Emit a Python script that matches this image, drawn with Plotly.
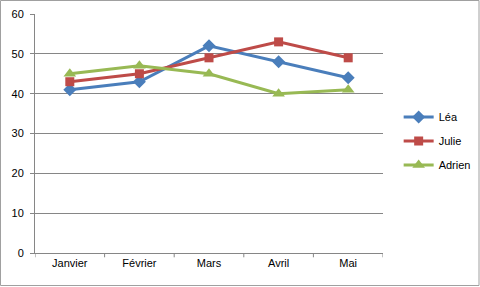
import plotly.graph_objects as go

months = ["Janvier", "Février", "Mars", "Avril", "Mai"]
lea = [41, 43, 52, 48, 44]
julie = [43, 45, 49, 53, 49]
adrien = [45, 47, 45, 40, 41]

series = [
    ("Léa", lea, "#4A7EBB", "diamond", 10),
    ("Julie", julie, "#BE4B48", "square", 9),
    ("Adrien", adrien, "#98B954", "triangle-up", 11),
]

fig = go.Figure()
for i, (name, vals, color, sym, sz) in enumerate(series):
    fig.add_trace(go.Scatter(
        x=list(range(len(months))), y=vals, name=name, mode="lines+markers",
        line=dict(color=color, width=3),
        marker=dict(symbol=sym, size=sz, color=color),
        legendgroup=name,
    ))

fig.update_layout(
    width=480, height=287,
    margin=dict(l=35, r=97, t=14, b=34, autoexpand=False),
    paper_bgcolor="white", plot_bgcolor="white",
    font=dict(family="Liberation Sans, Arial, sans-serif", size=11, color="#000"),
    showlegend=True,
    legend=dict(x=1.045, y=0.63, xanchor="left", yanchor="top",
                font=dict(size=11), tracegroupgap=5, itemwidth=30,
                bgcolor="rgba(0,0,0,0)"),
    xaxis=dict(
        range=[-0.5, 4.5], tickmode="array",
        tickvals=list(range(len(months))), ticktext=months,
        showgrid=False, zeroline=False, showline=True, automargin=False,
        linecolor="#868686", linewidth=1, ticks="",
        fixedrange=True,
    ),
    yaxis=dict(
        range=[0, 60], dtick=10, showgrid=True, gridcolor="#868686",
        gridwidth=1, zeroline=False, showline=True, linecolor="#868686",
        linewidth=1, ticks="outside", ticklen=4, tickcolor="#868686",
        ticklabelstandoff=4, automargin=False,
    ),
)

# category boundary tick marks on x axis
for b in [-0.5, 0.5, 1.5, 2.5, 3.5, 4.5]:
    fig.add_shape(type="line", xref="x", yref="paper", x0=b, x1=b, y0=0, y1=-0.018,
                  line=dict(color="#868686", width=1))

# chart border
fig.add_shape(type="rect", xref="paper", yref="paper",
              x0=-34.5/348, x1=(480-35-1)/348, y0=-32.5/239, y1=(14+239-0.5)/239,
              line=dict(color="#A0A0A0", width=1), layer="below")

fig.write_html("out.html")
